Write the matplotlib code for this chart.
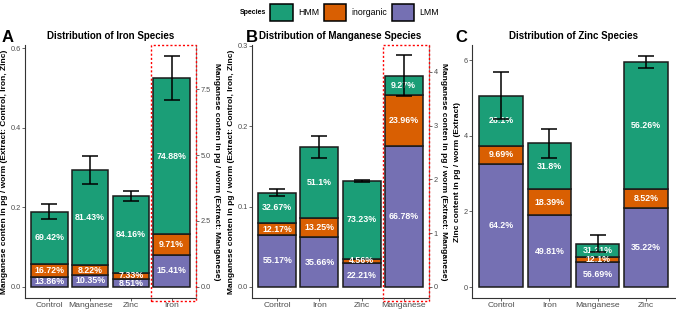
import matplotlib.pyplot as plt
import matplotlib.transforms as mtransforms
from matplotlib.patches import Patch, Rectangle

plt.rcParams['font.family'] = ['Liberation Sans', 'DejaVu Sans']

species = ["LMM", "inorganic", "HMM"]
colors = {"HMM": "#1B9E77", "inorganic": "#D95F02", "LMM": "#7570B3"}

# A - iron species (last group is read on the right axis)
iron_groups = ["Control", "Manganese", "Zinc", "Iron"]
iron_total = [0.189, 0.294, 0.228, 7.93]
iron_sd = [0.019, 0.036, 0.012, 0.83]
iron_lmm = [13.86, 10.35, 8.51, 15.41]
iron_inorg = [16.72, 8.22, 7.33, 9.71]
iron_hmm = [69.42, 81.43, 84.16, 74.88]

# B - manganese species (last group is read on the right axis)
mn_groups = ["Control", "Iron", "Zinc", "Manganese"]
mn_total = [0.1175, 0.1743, 0.132, 3.93]
mn_sd = [0.0045, 0.0135, 0.001, 0.38]
mn_lmm = [55.17, 35.66, 22.21, 66.78]
mn_inorg = [12.17, 13.25, 4.56, 23.96]
mn_hmm = [32.67, 51.1, 73.23, 9.27]

# C - zinc species
zn_groups = ["Control", "Iron", "Manganese", "Zinc"]
zn_total = [5.06, 3.80, 1.15, 5.95]
zn_sd = [0.62, 0.38, 0.22, 0.16]
zn_lmm = [64.2, 49.81, 56.69, 35.22]
zn_inorg = [9.69, 18.39, 12.1, 8.52]
zn_hmm = [26.1, 31.8, 31.21, 56.26]

W, H = 676, 310
fig = plt.figure(figsize=(W / 100, H / 100), dpi=100)

LABEL_FS = 6.0


def px_axes(left, right, top, bottom):
    return fig.add_axes([left / W, 1 - bottom / H, (right - left) / W, (bottom - top) / H])


def style_axis(ax):
    for s in ["top", "right"]:
        ax.spines[s].set_visible(False)
    for s in ["left", "bottom"]:
        ax.spines[s].set_color("#333333")
        ax.spines[s].set_linewidth(0.8)
    ax.tick_params(labelsize=5.3, colors="#4D4D4D", length=2, width=0.6, pad=1.2)
    ax.tick_params(axis="x", labelsize=6.1, pad=1)


def stack(ax, x, total, sd, pcts):
    bottom = 0
    for sp, p in zip(species, pcts):
        h = total * p / 100
        ax.bar(x, h, bottom=bottom, width=0.9, color=colors[sp],
               edgecolor="#1a1a1a", linewidth=1.1, zorder=2)
        ax.text(x, bottom + h / 2, f"{p:g}%", ha="center", va="center",
                color="white", fontsize=6.4, fontweight="bold", zorder=3)
        bottom += h
    ax.errorbar(x, total, yerr=sd, fmt="none", ecolor="black",
                elinewidth=1.1, capsize=6, capthick=1.1, zorder=4)


def panel(left, right, groups, total, sd, lmm, inorg, hmm, ylim, yticks, ylab,
          title, letter, letter_x, sec=None):
    ax = px_axes(left, right, 45, 298)
    n = len(groups) if sec is None else len(groups) - 1
    for i in range(n):
        stack(ax, i, total[i], sd[i], [lmm[i], inorg[i], hmm[i]])
    ax.set_xlim(-0.6, len(groups) - 0.4)
    ax.set_ylim(*ylim)
    ax.set_yticks(yticks)
    ax.set_xticks(range(len(groups)))
    ax.set_xticklabels(groups)
    ax.set_ylabel(ylab, fontsize=LABEL_FS, fontweight="bold", labelpad=2)
    ax.set_title(title, fontsize=7.0, fontweight="bold", pad=4)
    style_axis(ax)
    fig.text(letter_x / W, 1 - 42 / H, letter, fontsize=12, fontweight="bold")
    if sec is not None:
        sylim, sticks, sfmt = sec
        tw = ax.twinx()
        i = len(groups) - 1
        stack(tw, i, total[i], sd[i], [lmm[i], inorg[i], hmm[i]])
        tw.set_ylim(*sylim)
        tw.set_yticks(sticks)
        tw.set_yticklabels([sfmt.format(t) for t in sticks])
        for s in ["top", "left", "bottom"]:
            tw.spines[s].set_visible(False)
        tw.spines["right"].set_color("#8c8c8c")
        tw.spines["right"].set_linewidth(0.8)
        tw.tick_params(labelsize=5.3, colors="#4D4D4D", length=2, width=0.6, pad=1.2)
        tw.set_ylabel("Manganese conten in pg / worm (Extract: Manganese)",
                      fontsize=LABEL_FS, fontweight="bold", rotation=270,
                      va="bottom", labelpad=1.5)
        trans = mtransforms.blended_transform_factory(tw.transData, tw.transAxes)
        tw.add_patch(Rectangle((len(groups) - 1.5, -0.01), 1.1, 1.01, transform=trans,
                               fill=False, edgecolor="red", linestyle=(0, (1.5, 1.5)),
                               linewidth=1.0, clip_on=False, zorder=6))
    return ax


ylab_left = "Manganese conten in pg / worm (Extract: Control, Iron, Zinc)"

panel(25, 196, iron_groups, iron_total, iron_sd, iron_lmm, iron_inorg, iron_hmm,
      (-0.0277, 0.608), [0.0, 0.2, 0.4, 0.6], ylab_left,
      "Distribution of Iron Species", "A", 2,
      sec=((-0.42, 9.17), [0.0, 2.5, 5.0, 7.5], "{:.1f}"))
panel(252, 429, mn_groups, mn_total, mn_sd, mn_lmm, mn_inorg, mn_hmm,
      (-0.0137, 0.301), [0.0, 0.1, 0.2, 0.3], ylab_left,
      "Distribution of Manganese Species", "B", 246,
      sec=((-0.205, 4.50), [0, 1, 2, 3, 4], "{:g}"))
panel(472, 675, zn_groups, zn_total, zn_sd, zn_lmm, zn_inorg, zn_hmm,
      (-0.29, 6.40), [0, 2, 4, 6], "Zinc content in pg / worm (Extract)",
      "Distribution of Zinc Species", "C", 455)

# legend
handles = [Patch(facecolor=colors[s], edgecolor="black", linewidth=1.1)
           for s in ["HMM", "inorganic", "LMM"]]
fig.legend(handles, ["HMM", "inorganic", "LMM"], loc="center left",
           bbox_to_anchor=(270 / W, 1 - 12.5 / H), ncol=3, frameon=False,
           fontsize=6.3, handlelength=2.6, handleheight=2.6,
           handletextpad=0.6, columnspacing=0.5, borderpad=0, borderaxespad=0)
fig.text(240 / W, 1 - 12.5 / H, "Species", fontsize=5, fontweight="bold", va="center")

fig.savefig("out.png", dpi=100)
